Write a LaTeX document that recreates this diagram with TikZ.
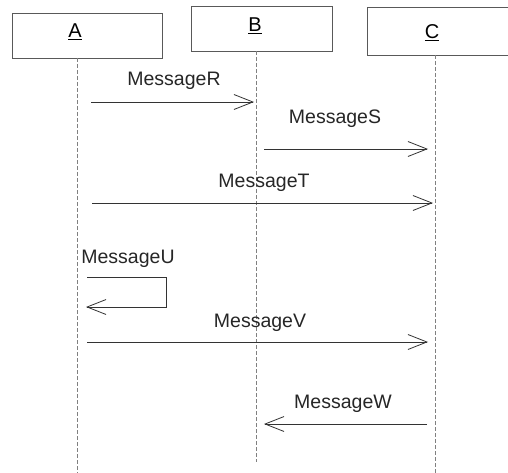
\documentclass[tikz,border=0pt]{standalone}
\usepackage{fontspec}
\setmainfont{Liberation Sans}
\usetikzlibrary{arrows.meta}
\begin{document}
\begin{tikzpicture}[x=1pt,y=-1pt,
  objbox/.style={draw=black!65,line width=0.8pt,fill=white,inner sep=0pt},
  objlabel/.style={anchor=base,font=\fontsize{20}{24}\selectfont,inner sep=0pt},
  msglabel/.style={anchor=base,font=\fontsize{19.5}{24}\selectfont,inner sep=0pt,text=black!85},
  lifeline/.style={draw=black!50,line width=0.8pt,dash pattern=on 4pt off 2pt},
  msg/.style={draw=black!80,line width=0.8pt,-{Straight Barb[length=19pt,width=15pt,line width=0.8pt]}},
  msgline/.style={draw=black!80,line width=0.8pt}]
\useasboundingbox (0,0) rectangle (508,473);
% object boxes
\node[objbox,minimum width=150pt,minimum height=45pt] (boxA) at (87,35.5) {};
\node[objbox,minimum width=141pt,minimum height=45pt] (boxB) at (261.5,28.5) {};
\node[objbox,minimum width=141pt,minimum height=48pt] (boxC) at (437.5,31) {};
\node[objlabel] (labA) at (75,38) {\underline{A}};
\node[objlabel] (labB) at (255,32) {\underline{B}};
\node[objlabel] (labC) at (432,39) {\underline{C}};
% lifelines
\coordinate (topA) at (77,58);
\coordinate (botA) at (77,473);
\coordinate (topB) at (256,51);
\coordinate (botB) at (256,462);
\coordinate (topC) at (435,55);
\coordinate (botC) at (435,473);
\draw[lifeline] (topA) -- (botA);
\draw[lifeline] (topB) -- (botB);
\draw[lifeline] (topC) -- (botC);
% MessageR
\coordinate (r1) at (91,102);
\coordinate (r2) at (254,102);
\draw[msg] (r1) -- (r2);
\node[msglabel] (lR) at (174,86) {MessageR};
% MessageS
\coordinate (s1) at (264,149);
\coordinate (s2) at (428,149);
\draw[msg] (s1) -- (s2);
\node[msglabel] (lS) at (335,124) {MessageS};
% MessageT
\coordinate (t1) at (92,203);
\coordinate (t2) at (433,203);
\draw[msg] (t1) -- (t2);
\node[msglabel] (lT) at (264,187) {MessageT};
% MessageU (self)
\coordinate (u1) at (87,277);
\coordinate (u2) at (166,277);
\coordinate (u3) at (166,307);
\coordinate (u4) at (86,307);
\draw[msg] (u1) -- (u2) -- (u3) -- (u4);
\node[msglabel] (lU) at (128,263) {MessageU};
% MessageV
\coordinate (v1) at (87,342);
\coordinate (v2) at (428,342);
\draw[msg] (v1) -- (v2);
\node[msglabel] (lV) at (260,327) {MessageV};
% MessageW
\coordinate (w1) at (427,424);
\coordinate (w2) at (264,424);
\draw[msg] (w1) -- (w2);
\node[msglabel] (lW) at (343,408) {MessageW};
\end{tikzpicture}
\end{document}
